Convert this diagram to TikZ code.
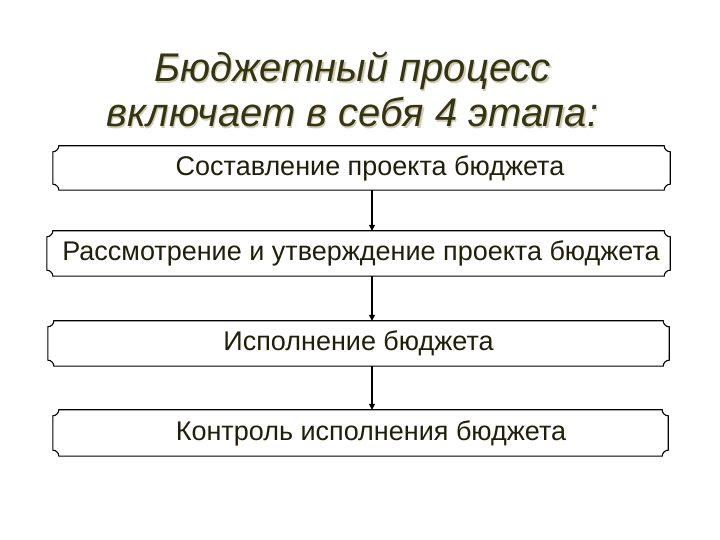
\documentclass[tikz,border=0pt]{standalone}
\usepackage{fontspec}
\setmainfont{Liberation Sans}
\usetikzlibrary{arrows.meta,calc}
\definecolor{titlecol}{HTML}{35350F}
\definecolor{shadowcol}{HTML}{D2CCB8}
\definecolor{textcol}{HTML}{1F1F0A}
\newcommand\drawplaque[2][6pt]{%
  \draw[plaqueline] ([xshift=#1]#2.north west) -- ([xshift=-#1]#2.north east)
    arc[start angle=180,end angle=270,radius=#1]
    -- ([yshift=#1]#2.south east)
    arc[start angle=90,end angle=180,radius=#1]
    -- ([xshift=#1]#2.south west)
    arc[start angle=0,end angle=90,radius=#1]
    -- ([yshift=-#1]#2.north west)
    arc[start angle=270,end angle=360,radius=#1] -- cycle;}
\begin{document}
\begin{tikzpicture}[x=1pt,y=1pt,
  plaqueline/.style={draw=black,line width=1.1pt,line join=miter},
  stagebox/.style={inner sep=0pt,text=textcol,font=\fontsize{27}{32}\selectfont},
  titletext/.style={font=\fontsize{40}{45}\selectfont\itshape,align=center,inner sep=0pt},
  flowarrow/.style={draw=black,line width=1.1pt,-{Triangle[width=6pt,length=6pt]}}]
\useasboundingbox (0,0) rectangle (720,540);
\fill[white] (0,0) rectangle (720,540);
% title with shadow
\node[titletext,text=shadowcol,anchor=base] (titleshadow) at (353.7,411.8) {Бюджетный процесс\\включает в себя 4 этапа:};
\node[titletext,text=titlecol,anchor=base] (title) at (352.5,413) {Бюджетный процесс\\включает в себя 4 этапа:};
% boxes
\node[stagebox,minimum width=617pt,minimum height=44pt] (b1) at (361.5,372) {\hspace*{17pt}Составление проекта бюджета};
\node[stagebox,minimum width=623pt,minimum height=45pt] (b2) at (358.5,286.5) {\hspace*{5pt}Рассмотрение и утверждение проекта бюджета};
\node[stagebox,minimum width=621pt,minimum height=45pt] (b3) at (358.5,196.5) {Исполнение бюджета};
\node[stagebox,minimum width=615pt,minimum height=46pt] (b4) at (360.5,107) {\hspace*{21pt}Контроль исполнения бюджета};
\drawplaque{b1}
\drawplaque{b2}
\drawplaque{b3}
\drawplaque{b4}
\coordinate (ax) at (372,0);
\draw[flowarrow] (b1.south -| ax) -- (b2.north -| ax);
\draw[flowarrow] (b2.south -| ax) -- (b3.north -| ax);
\draw[flowarrow] (b3.south -| ax) -- (b4.north -| ax);
\end{tikzpicture}
\end{document}
